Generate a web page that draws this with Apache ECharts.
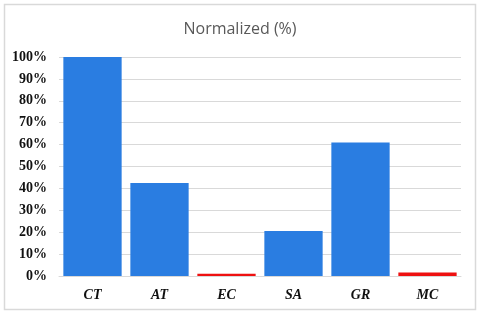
<!DOCTYPE html>
<html><head><meta charset="utf-8">
<script src="https://cdn.jsdelivr.net/npm/echarts@6/dist/echarts.min.js"></script>
<style>html,body{margin:0;padding:0;background:#fff}#c{width:480px;height:315px}</style>
</head><body><div id="c"></div>
<script>
const categories = ['CT','AT','EC','SA','GR','MC'];
const values = [100, 42.5, 1.0, 20.5, 61.0, 1.6];
const barColors = ['#2a7de1','#2a7de1','#ee1111','#2a7de1','#2a7de1','#ee1111'];
const chart = echarts.init(document.getElementById('c'));
chart.setOption({
  backgroundColor:'#fff',
  animation:false,
  graphic:[{type:'rect',shape:{x:4.5,y:4.5,width:471,height:305},style:{fill:'none',stroke:'#d9d9d9',lineWidth:1.5}}],
  title:{text:'Normalized (%)',left:'center',top:16,textStyle:{fontFamily:'Open Sans',fontWeight:'normal',fontSize:16,color:'#595959'}},
  grid:{left:59,right:19,top:57,bottom:39},
  xAxis:{type:'category',data:categories,
    axisLine:{lineStyle:{color:'#d9d9d9',width:1}},axisTick:{show:false},
    axisLabel:{fontFamily:'Liberation Serif',fontWeight:'bold',fontStyle:'italic',fontSize:14,color:'#111',margin:12}},
  yAxis:{type:'value',min:0,max:100,interval:10,
    axisLabel:{formatter:'{value}%',fontFamily:'Liberation Serif',fontWeight:'bold',fontSize:14,color:'#111',margin:12},
    splitLine:{lineStyle:{color:'#d9d9d9',width:1}},axisLine:{show:false},axisTick:{show:false}},
  series:[{type:'bar',barCategoryGap:'13%',
    data:values.map((v,i)=>({value:v,itemStyle:{color:barColors[i]}}))}]
});
</script></body></html>
